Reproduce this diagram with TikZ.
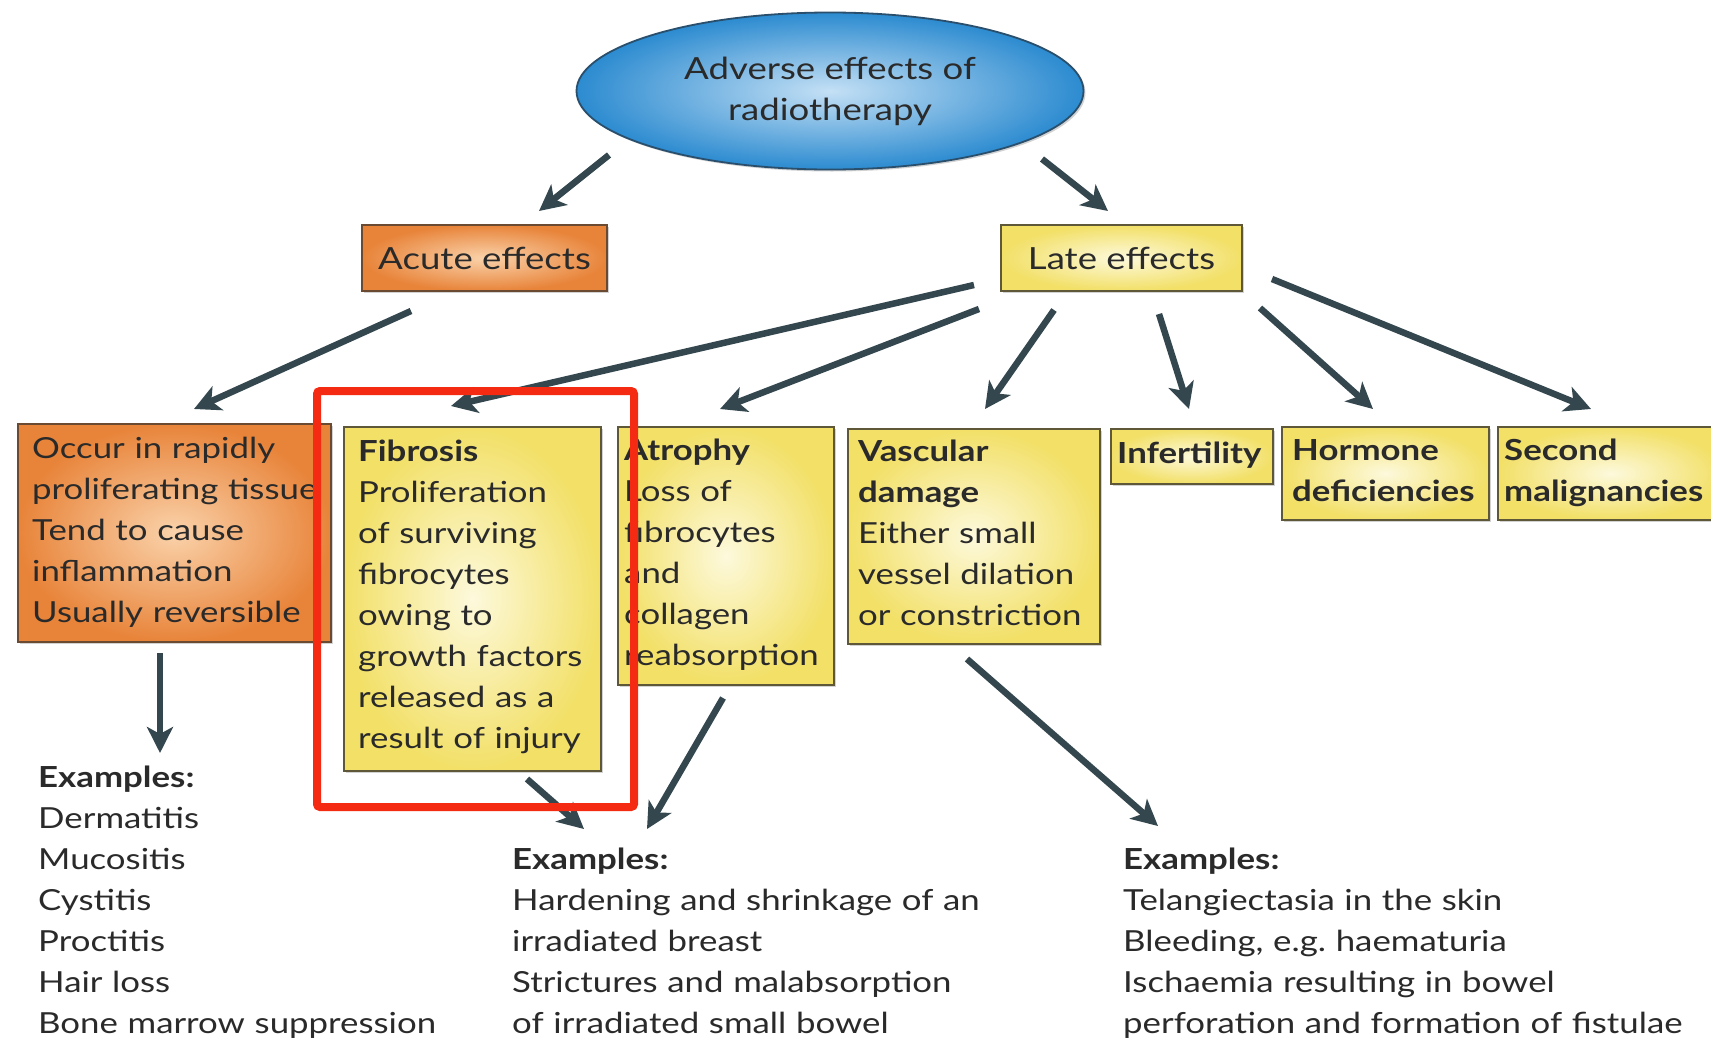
\documentclass[tikz,border=0pt]{standalone}
\usepackage{fontspec}
\setmainfont{Lato}[FakeStretch=1.2]
\usetikzlibrary{arrows.meta,shapes.geometric,shadows}
\frenchspacing
\definecolor{txtc}{HTML}{2A2A2A}
\definecolor{arrc}{HTML}{34474F}
\definecolor{yin}{HTML}{FDF9DC}
\definecolor{yout}{HTML}{F2E067}
\definecolor{ybord}{HTML}{5E5838}
\definecolor{oin}{HTML}{FAD2AA}
\definecolor{oout}{HTML}{E8843A}
\definecolor{obord}{HTML}{6A4A30}
\definecolor{bin}{HTML}{C4E0F5}
\definecolor{bout}{HTML}{2C8BD0}
\definecolor{bbord}{HTML}{2A4F6C}
\definecolor{redc}{HTML}{F42A12}
\begin{document}
\begin{tikzpicture}[x=1pt,y=-1pt,
  txt/.style={font=\fontsize{29}{41}\selectfont, text=txtc, inner sep=0pt, text width=700pt, align=left, anchor=base west},
  ctxt/.style={font=\fontsize{30.5}{41}\selectfont, text=txtc, align=center},
  ybox/.style={draw=ybord, line width=1.8pt, inner color=yin, outer color=yout, inner sep=0pt,
    drop shadow={shadow xshift=2pt, shadow yshift=-2pt, opacity=0.35}},
  obox/.style={draw=obord, line width=1.8pt, inner color=oin, outer color=oout, inner sep=0pt,
    drop shadow={shadow xshift=2pt, shadow yshift=-2pt, opacity=0.35}},
  arr/.style={draw=arrc, line width=6.5pt, -{Stealth[length=26pt,width=26pt,inset=7pt]}}
]
\useasboundingbox[fill=white] (0,0) rectangle (1711,1044);

% top ellipse
\node[ellipse, draw=bbord, line width=1.8pt, inner color=bin, outer color=bout,
  minimum width=507pt, minimum height=157pt, ctxt,
  drop shadow={shadow xshift=2pt, shadow yshift=-2pt, opacity=0.35}] (top) at (830,91)
  {Adverse effects of\\radiotherapy};

% second level
\node[obox, ctxt, minimum width=245pt, minimum height=66pt] (acute) at (484.5,258) {Acute effects};
\node[ybox, ctxt, minimum width=241pt, minimum height=66pt] (late) at (1121.5,258) {Late effects};

% third level boxes
\node[obox, anchor=north west, minimum width=313pt, minimum height=218pt] (occur) at (17,423) {};
\node[ybox, anchor=north west, minimum width=257pt, minimum height=344pt] (fib) at (343,426) {};
\node[ybox, anchor=north west, minimum width=216pt, minimum height=258pt] (atr) at (617,426) {};
\node[ybox, anchor=north west, minimum width=252pt, minimum height=215pt] (vas) at (847,428) {};
\node[ybox, anchor=north west, minimum width=162pt, minimum height=55pt] (inf) at (1110,428) {};
\node[ybox, anchor=north west, minimum width=207pt, minimum height=93pt] (hor) at (1281,426) {};
\node[ybox, anchor=north west, minimum width=225pt, minimum height=93pt] (sec) at (1497,426) {};

\node[txt] (occurt) at (32,458) {Occur in rapidly\\proliferating tissue\\Tend to cause\\inflammation\\Usually reversible};
\node[txt] (fibt) at (358,461) {\textbf{Fibrosis}\\Proliferation\\of surviving\\fibrocytes\\owing to\\growth factors\\released as a\\result of injury};
\node[txt] (atrt) at (624,460) {\textbf{Atrophy}\\Loss of\\fibrocytes\\and\\collagen\\reabsorption};
\node[txt] (vast) at (858,461) {\textbf{Vascular}\\\textbf{damage}\\Either small\\vessel dilation\\or constriction};
\node[txt] (inft) at (1117,463) {\textbf{Infertility}};
\node[txt] (hort) at (1292,460) {\textbf{Hormone}\\\textbf{deficiencies}};
\node[txt] (sect) at (1504,460) {\textbf{Second}\\\textbf{malignancies}};

% examples
\node[txt] (ex1) at (38,787) {\textbf{Examples:}\\Dermatitis\\Mucositis\\Cystitis\\Proctitis\\Hair loss\\Bone marrow suppression};
\node[txt] (ex2) at (512,869) {\textbf{Examples:}\\Hardening and shrinkage of an\\irradiated breast\\Strictures and malabsorption\\of irradiated small bowel};
\node[txt] (ex3) at (1123,869) {\textbf{Examples:}\\Telangiectasia in the skin\\Bleeding, e.g. haematuria\\Ischaemia resulting in bowel\\perforation and formation of fistulae};

% arrow end points
\coordinate (topL) at (609,155);   \coordinate (acuteIn) at (539,211);
\coordinate (topR) at (1042,159);  \coordinate (lateIn) at (1108,211);
\coordinate (acuteOut) at (411,311); \coordinate (occurIn) at (194,409);
\coordinate (l1) at (974,285);  \coordinate (fibIn) at (451,406);
\coordinate (l2) at (979,309);  \coordinate (atrIn) at (720,409);
\coordinate (l3) at (1054,310); \coordinate (vasIn) at (985,409);
\coordinate (l4) at (1159,314); \coordinate (infIn) at (1189,409);
\coordinate (l5) at (1260,308); \coordinate (horIn) at (1373,409);
\coordinate (l6) at (1272,279); \coordinate (secIn) at (1591,409);
\coordinate (occurOut) at (160,653); \coordinate (ex1In) at (160,753);
\coordinate (fibOut) at (527,779); \coordinate (ex2InA) at (584,829);
\coordinate (atrOut) at (723,698); \coordinate (ex2InB) at (647,829);
\coordinate (vasOut) at (967,659); \coordinate (ex3In) at (1158,826);

\draw[arr] (topL) -- (acuteIn);
\draw[arr] (topR) -- (lateIn);
\draw[arr] (acuteOut) -- (occurIn);
\draw[arr] (l1) -- (fibIn);
\draw[arr] (l2) -- (atrIn);
\draw[arr] (l3) -- (vasIn);
\draw[arr] (l4) -- (infIn);
\draw[arr] (l5) -- (horIn);
\draw[arr] (l6) -- (secIn);
\draw[arr] (occurOut) -- (ex1In);
\draw[arr] (fibOut) -- (ex2InA);
\draw[arr] (atrOut) -- (ex2InB);
\draw[arr] (vasOut) -- (ex3In);

% red highlight
\node[draw=redc, line width=8pt, rounded corners=3pt, anchor=north west, inner sep=0pt,
  minimum width=317pt, minimum height=416pt] (hl) at (313,387) {};
\end{tikzpicture}
\end{document}
